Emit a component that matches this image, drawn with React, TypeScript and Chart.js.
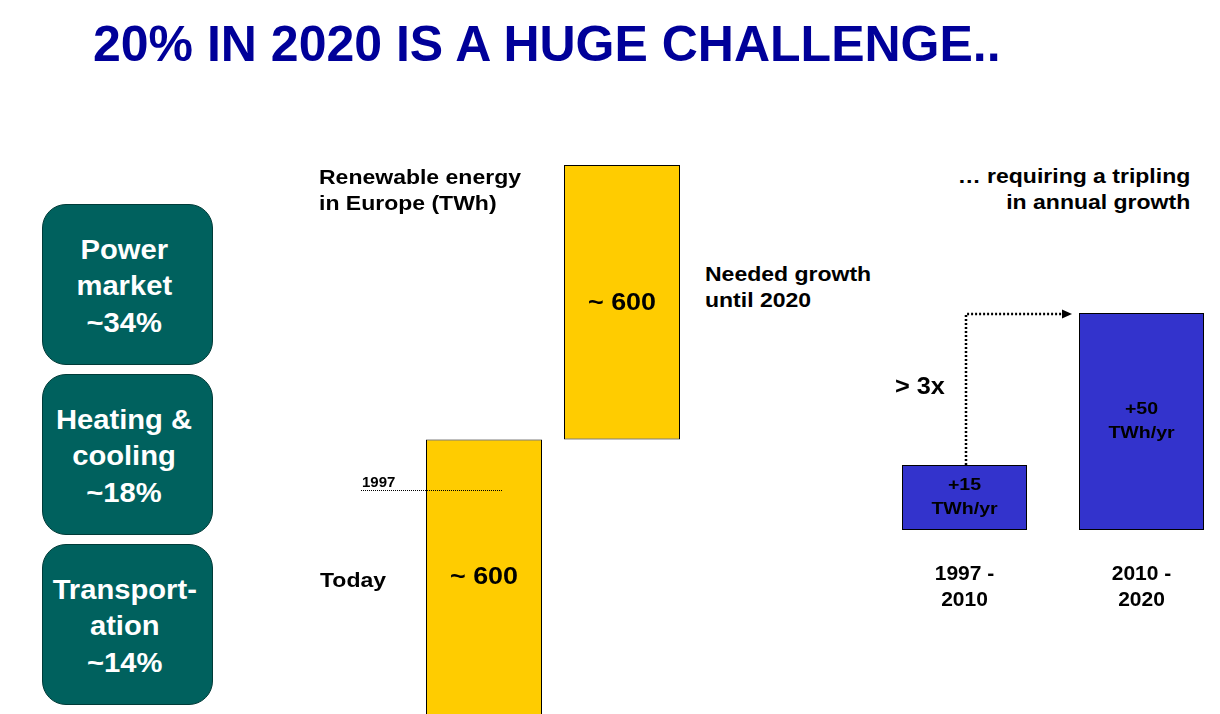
import React, { useEffect, useRef } from "react";
import { Chart, registerables } from "chart.js";

Chart.register(...registerables);

// ---------- data ----------
const titleText = "20% IN 2020 IS A HUGE CHALLENGE..";

const segmentLabels = [
  ["Power", "market", "~34%"],
  ["Heating &", "cooling", "~18%"],
  ["Transport-", "ation", "~14%"],
];

const waterfallCategories = ["Today", "Needed growth until 2020"];
const waterfallSteps = [600, 600];
const waterfallStepLabels = ["~ 600", "~ 600"];
const waterfallMax = 1200;
const level1997 = 490;
const level1997Label = "1997";

const growthCategories = [
  ["1997 -", "2010"],
  ["2010 -", "2020"],
];
const growthValues = [15, 50];
const growthLabels = [
  ["+15", "TWh/yr"],
  ["+50", "TWh/yr"],
];
const growthMax = 50;
const growthMultiplierLabel = "> 3x";

// ---------- styling ----------
const FONT = "'Liberation Sans', Arial, Helvetica, sans-serif";
const YELLOW = "#FFCC00";
const BLUE = "#3333CC";
const TEAL = "#00615E";
const NAVY = "#000099";

Chart.defaults.font.family = FONT;

function drawStretched(ctx: CanvasRenderingContext2D, text: string, x: number, y: number, k: number) {
  ctx.save();
  ctx.translate(x, y);
  ctx.scale(k, 1);
  ctx.fillText(text, 0, 0);
  ctx.restore();
}

function Txt({ x, baseline, size, lh, k = 1, align = "left", color = "#000", lines }: any) {
  const top = baseline - ((lh - 1.117 * size) / 2 + 0.905 * size);
  const style: any = {
    position: "absolute",
    top,
    fontSize: size,
    lineHeight: lh + "px",
    color,
    whiteSpace: "pre",
    fontWeight: "bold",
    transform: `scaleX(${k})`,
  };
  if (align === "left") {
    style.left = x;
    style.transformOrigin = "left top";
    style.textAlign = "left";
  } else {
    style.right = 1220 - x;
    style.transformOrigin = "right top";
    style.textAlign = "right";
  }
  return (
    <div style={style}>
      {lines.map((l: string, i: number) => (
        <div key={i}>{l}</div>
      ))}
    </div>
  );
}

export default function App() {
  const wfRef = useRef<HTMLCanvasElement | null>(null);
  const grRef = useRef<HTMLCanvasElement | null>(null);

  useEffect(() => {
    // waterfall: floating bars built from the steps
    let acc = 0;
    const floating = waterfallSteps.map((v) => {
      const r = [acc, acc + v];
      acc += v;
      return r;
    });

    const wfPlugin = {
      id: "wfAnno",
      afterDatasetsDraw(chart: any) {
        const ctx: CanvasRenderingContext2D = chart.ctx;
        const meta = chart.getDatasetMeta(0);
        const yScale = chart.scales.y;
        ctx.save();
        ctx.fillStyle = "#000";
        ctx.textAlign = "center";
        ctx.textBaseline = "middle";
        ctx.font = `bold 24px ${FONT}`;
        meta.data.forEach((bar: any, i: number) => {
          const cy = (bar.y + bar.base) / 2 + 1;
          drawStretched(ctx, waterfallStepLabels[i], bar.x, cy, 1.12);
        });
        // 1997 dotted reference line
        const b0 = meta.data[0];
        const y97 = Math.round(yScale.getPixelForValue(level1997)) + 0.5;
        const x0 = b0.x - 123;
        const x1 = b0.x + 18;
        ctx.strokeStyle = "#000";
        ctx.lineWidth = 1;
        ctx.setLineDash([1, 1]);
        ctx.beginPath();
        ctx.moveTo(x0, y97);
        ctx.lineTo(x1, y97);
        ctx.stroke();
        ctx.setLineDash([]);
        ctx.textAlign = "left";
        ctx.textBaseline = "alphabetic";
        ctx.font = `bold 15px ${FONT}`;
        drawStretched(ctx, level1997Label, x0 + 1, y97 - 3.5, 1.0);
        ctx.restore();
      },
    };

    const wf = new Chart(wfRef.current as HTMLCanvasElement, {
      type: "bar",
      data: {
        labels: waterfallCategories,
        datasets: [
          {
            data: floating as any,
            backgroundColor: YELLOW,
            borderColor: "#000",
            borderWidth: 1,
            // the "Today" bar runs off the bottom of the slide: no bottom edge
            borderSkipped: ((c: any) => (c.dataIndex === 0 ? "bottom" : false)) as any,
            barPercentage: 116 / 138,
            categoryPercentage: 1,
          },
        ],
      },
      options: {
        animation: false,
        responsive: false,
        devicePixelRatio: 1,
        layout: { padding: { left: 75, right: 9, top: 15, bottom: 0 } },
        plugins: { legend: { display: false }, tooltip: { enabled: false } },
        scales: {
          x: { display: false },
          y: { display: false, min: 0, max: waterfallMax },
        },
      },
      plugins: [wfPlugin],
    });

    const grPlugin = {
      id: "grAnno",
      afterDatasetsDraw(chart: any) {
        const ctx: CanvasRenderingContext2D = chart.ctx;
        const meta = chart.getDatasetMeta(0);
        const b0 = meta.data[0];
        const b1 = meta.data[1];
        ctx.save();
        // dotted arrow from small bar to large bar
        const ax = Math.round(b0.x) + 1;
        const ay = Math.round(b1.y) + 1;
        const tipX = b1.x - b1.width / 2 - 7;
        ctx.strokeStyle = "#000";
        ctx.lineWidth = 2.5;
        ctx.setLineDash([2, 2]);
        ctx.beginPath();
        ctx.moveTo(ax, b0.y);
        ctx.lineTo(ax, ay);
        ctx.lineTo(tipX - 9, ay);
        ctx.stroke();
        ctx.setLineDash([]);
        ctx.fillStyle = "#000";
        ctx.beginPath();
        ctx.moveTo(tipX, ay);
        ctx.lineTo(tipX - 10, ay - 4.5);
        ctx.lineTo(tipX - 10, ay + 4.5);
        ctx.closePath();
        ctx.fill();
        // labels inside bars
        ctx.textAlign = "center";
        ctx.textBaseline = "middle";
        ctx.font = `bold 17px ${FONT}`;
        meta.data.forEach((bar: any, i: number) => {
          const cy = (bar.y + bar.base) / 2;
          const lines = growthLabels[i];
          const lh = 24;
          lines.forEach((l, j) => {
            drawStretched(ctx, l, bar.x, cy + (j - (lines.length - 1) / 2) * lh, 1.15);
          });
        });
        ctx.restore();
      },
    };

    const gr = new Chart(grRef.current as HTMLCanvasElement, {
      type: "bar",
      data: {
        labels: growthCategories as any,
        datasets: [
          {
            data: growthValues,
            backgroundColor: BLUE,
            borderColor: "#000",
            borderWidth: 1,
            borderSkipped: false,
            barPercentage: 125 / 177,
            categoryPercentage: 1,
          },
        ],
      },
      options: {
        animation: false,
        responsive: false,
        devicePixelRatio: 1,
        layout: { padding: { left: 0, right: 0, top: 13, bottom: 0 } },
        plugins: { legend: { display: false }, tooltip: { enabled: false } },
        scales: {
          x: {
            grid: { display: false, drawTicks: false },
            border: { display: false },
            ticks: {
              padding: 32,
              color: "#000",
              autoSkip: false,
              maxRotation: 0,
              font: { size: 21, weight: "bold", family: FONT },
            },
            afterFit: (s: any) => {
              s.height = 90;
            },
          },
          y: { display: false, min: 0, max: growthMax },
        },
      },
      plugins: [grPlugin],
    });

    return () => {
      wf.destroy();
      gr.destroy();
    };
  }, []);

  return (
    <div
      style={{
        position: "absolute",
        left: 0,
        top: 0,
        width: 1220,
        height: 714,
        overflow: "hidden",
        background: "#fff",
        fontFamily: FONT,
      }}
    >
      <Txt x={93} baseline={61} size={50} lh={60} color={NAVY} lines={[titleText]} />

      {segmentLabels.map((lines, i) => (
        <div
          key={i}
          style={{
            position: "absolute",
            left: 42,
            top: 204 + i * 170,
            width: 171,
            height: 161,
            boxSizing: "border-box",
            borderRadius: 24,
            background: TEAL,
            border: "1px solid #003b38",
            display: "flex",
            flexDirection: "column",
            alignItems: "center",
            justifyContent: "center",
            color: "#fff",
            fontSize: 27,
            lineHeight: "36.5px",
            fontWeight: "bold",
          }}
        >
          <div style={{ transform: "translate(-3px, 2px) scaleX(1.08)", textAlign: "center", whiteSpace: "pre" }}>
            {lines.map((l, j) => (
              <div key={j}>{l}</div>
            ))}
          </div>
        </div>
      ))}

      <canvas
        ref={wfRef}
        width={360}
        height={564}
        style={{ position: "absolute", left: 340, top: 150, width: 360, height: 564 }}
      />
      <canvas
        ref={grRef}
        width={354}
        height={320}
        style={{ position: "absolute", left: 876, top: 300, width: 354, height: 320 }}
      />

      <Txt x={319} baseline={184} size={20} lh={26} k={1.15} lines={["Renewable energy", "in Europe (TWh)"]} />
      <Txt x={705} baseline={281} size={20} lh={26} k={1.15} lines={["Needed growth", "until 2020"]} />
      <Txt x={320} baseline={587} size={20} lh={26} k={1.15} lines={[waterfallCategories[0]]} />
      <Txt
        x={1190}
        baseline={183}
        size={20}
        lh={26}
        k={1.15}
        align="right"
        lines={["\u2026 requiring a tripling", "in annual growth"]}
      />
      <Txt x={895} baseline={394} size={23} lh={28} k={1.1} lines={[growthMultiplierLabel]} />
    </div>
  );
}
